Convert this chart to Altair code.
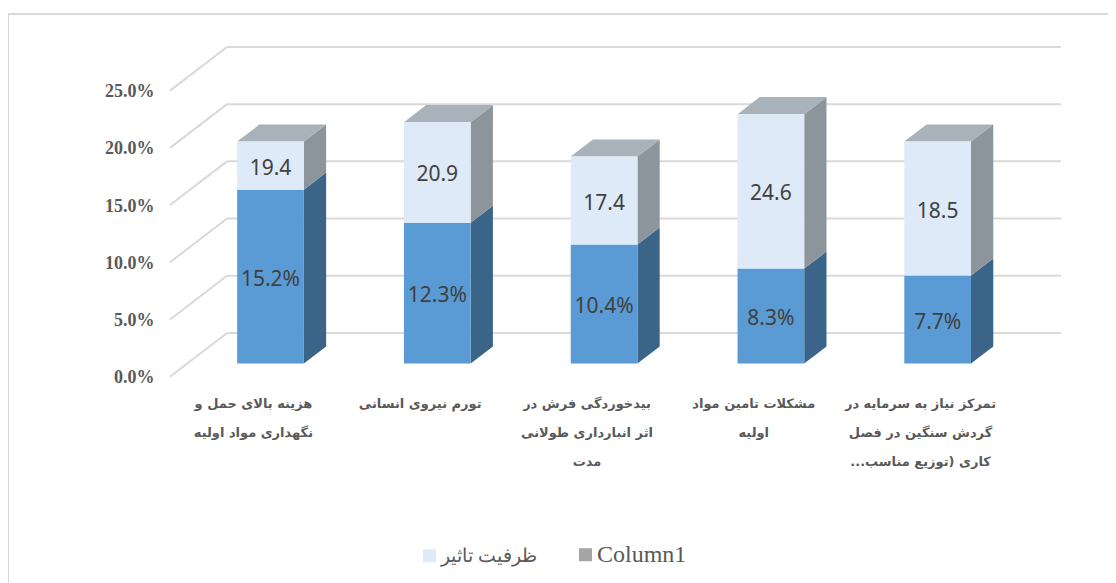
import altair as alt
import pandas as pd

# ---- values ----
categories = [
    "هزینه بالای حمل و\nنگهداری مواد اولیه",
    "تورم نیروی انسانی",
    "بیدخوردگی فرش در\nاثر انبارداری طولانی\nمدت",
    "مشکلات تامین مواد\nاولیه",
    "تمرکز نیاز به سرمایه در\nگردش سنگین در فصل\nکاری (توزیع مناسب...\u200f",
]
lower_values = [15.2, 12.3, 10.4, 8.3, 7.7]
upper_tops = [19.4, 21.1, 18.1, 21.8, 19.4]
lower_labels = ["15.2%", "12.3%", "10.4%", "8.3%", "7.7%"]
upper_labels = ["19.4", "20.9", "17.4", "24.6", "18.5"]
axis_ticks = [0, 5, 10, 15, 20, 25]
legend_names = ["ظرفیت تاثیر", "Column1"]
legend_colors = ["#deeaf7", "#a5a5a5"]

# ---- 3-D projection of the depth axis, in data units ----
WALL_X = 0.342    # category units for full floor depth
WALL_Y = 3.82     # percent units for full floor depth
D_FRONT, D_BACK = 0.30, 0.69
HALF = 0.2

x_scale = alt.Scale(domain=[-0.56, 4.896], nice=False, zero=False)
y_scale = alt.Scale(domain=[0, 30.3], nice=False, zero=False)
GRID = "#d9d9d9"

grid = pd.DataFrame({"v": axis_ticks})
grid["xa"] = -0.5
grid["xb"] = -0.5 + WALL_X
grid["xc"] = 4.5 + WALL_X
grid["yb"] = grid["v"] + WALL_Y

front, side, top, text = [], [], [], []
for i in range(len(categories)):
    cx = i + D_FRONT * WALL_X
    base = D_FRONT * WALL_Y
    rise = (D_BACK - D_FRONT) * WALL_Y
    run = (D_BACK - D_FRONT) * WALL_X
    x0, x1 = cx - HALF, cx + HALF
    lo, hi = base, base + lower_values[i]
    tp = base + upper_tops[i]
    front.append(dict(x=x0, x2=x1, y=lo, y2=hi, c="#5b9bd5"))
    front.append(dict(x=x0, x2=x1, y=hi, y2=tp, c="#deeaf7"))
    for name, a, b, col in [("l", lo, hi, "#3a6488"), ("u", hi, tp, "#8d959c")]:
        side.append(dict(k=f"{i}{name}", x=x1, y=a, y2=b, c=col))
        side.append(dict(k=f"{i}{name}", x=x1 + run, y=a + rise, y2=b + rise, c=col))
    top.append(dict(k=i, y=tp, x=x0, x2=x1))
    top.append(dict(k=i, y=tp + rise, x=x0 + run, x2=x1 + run))
    text.append(dict(x=cx, y=(lo + hi) / 2, t=lower_labels[i]))
    text.append(dict(x=cx, y=(hi + tp) / 2, t=upper_labels[i]))

y_axis = alt.Axis(
    values=axis_ticks, title=None, domain=False, ticks=False, grid=False,
    labelExpr="format(datum.value,'.1f')+'%'",
    labelFont="Liberation Serif", labelFontWeight="bold", labelFontSize=18,
    labelColor="#595959", labelPadding=6, labelOffset=1,
)

X = lambda f: alt.X(f, type="quantitative", scale=x_scale, axis=None)
Y = lambda f: alt.Y(f, type="quantitative", scale=y_scale, axis=y_axis, stack=None)

grid_back = alt.Chart(grid).mark_rule(color=GRID, strokeWidth=2).encode(
    x=X("xb"), x2="xc", y=Y("yb"),
)
grid_left = alt.Chart(grid).mark_rule(color=GRID, strokeWidth=2).encode(
    x=X("xa"), x2="xb", y=Y("v"), y2="yb",
)

side_faces = alt.Chart(pd.DataFrame(side)).mark_area(opacity=1).encode(
    x=X("x"), y=Y("y"), y2="y2", detail="k:N",
    fill=alt.Fill("c:N", scale=None),
)
top_faces = alt.Chart(pd.DataFrame(top)).mark_area(orient="horizontal", color="#a7b2ba").encode(
    y=Y("y"), x=alt.X("x", type="quantitative", scale=x_scale, axis=None, stack=None),
    x2="x2", detail="k:N",
)
front_faces = alt.Chart(pd.DataFrame(front)).mark_rect().encode(
    x=X("x"), x2="x2", y=Y("y"), y2="y2",
    fill=alt.Fill("c:N", scale=None),
)
value_labels = alt.Chart(pd.DataFrame(text)).mark_text(
    font="Noto Sans", fontSize=21, color="#404040", dy=3
).encode(x=X("x"), y=Y("y"), text="t:N")

cat_labels = alt.Chart(
    pd.DataFrame({"x": list(range(len(categories))), "t": categories})
).mark_text(
    font="DejaVu Sans", fontWeight="bold", fontSize=13, color="#595959",
    lineBreak="\n", lineHeight=29, baseline="top", align="center",
).encode(x=X("x"), y=alt.value(368), text="t:N")

legend_mark = alt.Chart(pd.DataFrame({"s": legend_names})).mark_square(size=0).encode(
    x=alt.value(0), y=alt.value(0),
    color=alt.Color("s:N", scale=alt.Scale(domain=legend_names, range=legend_colors),
        legend=alt.Legend(
            title=None, orient="none", legendX=260, legendY=515, direction="horizontal",
            symbolType="square", symbolSize=169, symbolOpacity=1, symbolStrokeWidth=0,
            labelFont="Liberation Serif",
            labelFontSize=alt.expr("datum.label == 'Column1' ? 24 : 19"),
            labelColor="#595959",
            labelOffset=2, columnPadding=39, labelLimit=300,
        )),
)

frame_top = alt.Chart(pd.DataFrame({"a": [0]})).mark_rule(color=GRID, strokeWidth=2).encode(
    x=alt.value(-152), x2=alt.value(948), y=alt.value(-16),
)
frame_left = alt.Chart(pd.DataFrame({"a": [0]})).mark_rule(color=GRID, strokeWidth=2).encode(
    x=alt.value(-152), y=alt.value(-16), y2=alt.value(553),
)

chart = alt.layer(
    frame_top, frame_left, grid_back, grid_left, side_faces, top_faces,
    front_faces, value_labels, cat_labels, legend_mark,
).properties(
    width=910, height=346.7,
    padding={"left": 152, "top": 22, "right": 38, "bottom": 206},
    autosize=alt.AutoSizeParams(type="none"),
    background="white",
).configure_view(stroke=None)

chart.save("out.html", embed_options={"renderer": "svg", "actions": False})
